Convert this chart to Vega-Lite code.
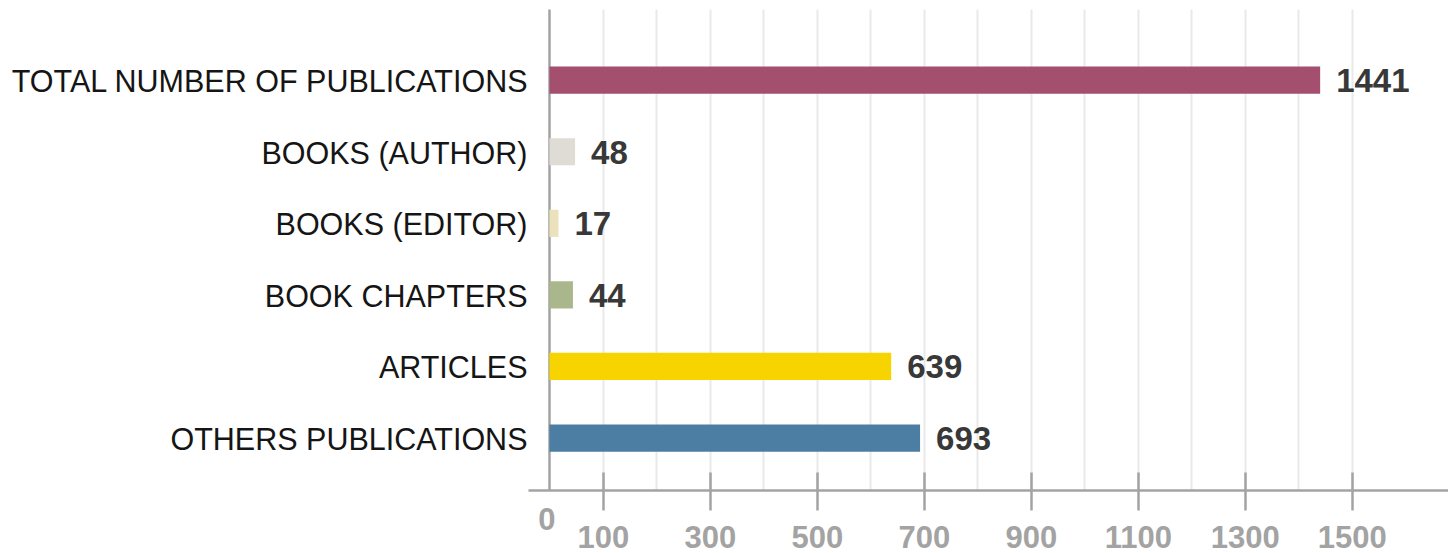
{
  "$schema": "https://vega.github.io/schema/vega-lite/v6.json",
  "width": 920,
  "height": 481,
  "autosize": {"type": "none"},
  "padding": {"left": 528, "top": 9, "right": 0, "bottom": 63},
  "background": "#ffffff",
  "config": {"view": {"stroke": null}, "font": "Liberation Sans"},
  "data": {
    "values": [
      {"category": "TOTAL NUMBER OF PUBLICATIONS", "count": 1441, "color": "#a54f6e"},
      {"category": "BOOKS (AUTHOR)", "count": 48, "color": "#dedcd5"},
      {"category": "BOOKS (EDITOR)", "count": 17, "color": "#ebe2bc"},
      {"category": "BOOK CHAPTERS", "count": 44, "color": "#aab68c"},
      {"category": "ARTICLES", "count": 639, "color": "#f7d300"},
      {"category": "OTHERS PUBLICATIONS", "count": 693, "color": "#4c7ea3"}
    ]
  },
  "encoding": {
    "y": {
      "field": "category",
      "type": "nominal",
      "sort": null,
      "scale": {"paddingInner": 0.62, "paddingOuter": 0.67, "align": 0.6},
      "axis": {
        "title": null,
        "domain": false,
        "ticks": false,
        "labelPadding": 1,
        "labelOffset": 3,
        "labelLimit": 0,
        "labelFontSize": 30.5,
        "labelColor": "#151515",
        "labelFont": "Liberation Sans"
      }
    }
  },
  "layer": [
    {
      "mark": {"type": "bar"},
      "encoding": {
        "x": {
          "field": "count",
          "type": "quantitative",
          "scale": {"domain": [-40, 1680], "nice": false, "zero": false},
          "axis": {
            "title": null,
            "values": [0, 100, 200, 300, 400, 500, 600, 700, 800, 900, 1000, 1100, 1200, 1300, 1400, 1500],
            "labelExpr": "(datum.value % 200 == 0 && datum.value != 0) ? '' : datum.label",
            "format": "d",
            "grid": true,
            "gridColor": {"condition": {"test": "datum.value == 0", "value": "#a3a3a3"}, "value": "#e9e9e9"},
            "gridWidth": {"condition": {"test": "datum.value == 0", "value": 2.5}, "value": 2},
            "tickSize": {"condition": {"test": "datum.value % 200 == 0", "value": 0}, "value": 20},
            "tickColor": "#a3a3a3",
            "tickWidth": 2.5,
            "domainColor": "#a3a3a3",
            "domainWidth": 2.5,
            "labelFontSize": 31,
            "labelFontWeight": "bold",
            "labelColor": "#a3a3a3",
            "labelFont": "Liberation Sans",
            "labelPadding": {"condition": {"test": "datum.value == 0", "value": 15}, "value": 13},
            "labelOffset": {"condition": {"test": "datum.value == 0", "value": -3}, "value": 0},
            "labelFlush": false,
            "labelOverlap": false
          }
        },
        "color": {"field": "color", "type": "nominal", "scale": null}
      }
    },
    {
      "mark": {"type": "text", "align": "left", "baseline": "middle", "dx": 16, "dy": 2, "fontSize": 33, "fontWeight": "bold", "color": "#383838", "font": "Liberation Sans"},
      "encoding": {
        "x": {
          "field": "count",
          "type": "quantitative",
          "axis": {
            "title": null,
            "orient": "bottom",
            "values": [100, 300, 500, 700, 900, 1100, 1300, 1500],
            "domain": false,
            "labels": false,
            "grid": false,
            "tickSize": -18,
            "tickColor": "#a3a3a3",
            "tickWidth": 2.5
          }
        },
        "text": {"field": "count", "type": "quantitative"}
      }
    }
  ],
  "resolve": {"axis": {"x": "independent"}}
}
